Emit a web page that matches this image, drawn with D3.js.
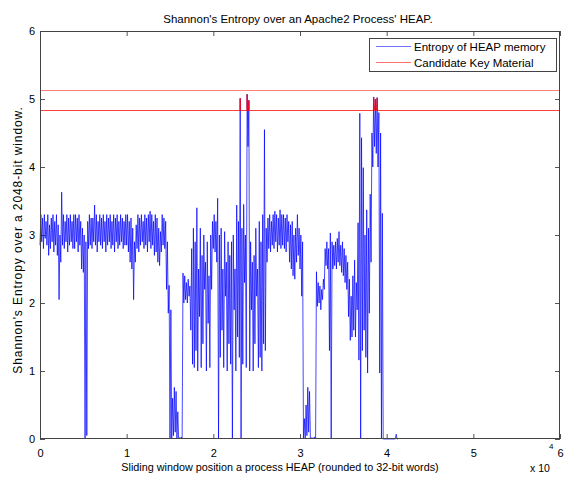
<!DOCTYPE html>
<html>
<head>
<meta charset="utf-8">
<script src="https://cdn.jsdelivr.net/npm/d3@7"></script>
<style>
  body { margin: 0; background: #fff; }
  text { font-family: "Liberation Sans", Arial, Helvetica, sans-serif; fill: #000; }
</style>
</head>
<body>
<div id="chart"></div>
<script>
    // -------------------------------
    // Data
    // -------------------------------
    // entropy per 200-word bin: low and high of the sliding window inside the bin
    const binWords = 200;
    const heapLo = [
      2.85, 2.9, 2.8, 2.95, 2.85, 2.7, 2.8, 2.9, 2.75, 2.85,
      2.7, 2.05, 2.6, 2.85, 2.8, 2.9, 2.75, 2.85, 2.9, 2.8,
      2.8, 2.9, 2.75, 2.85, 2.5, 2.45, 0, 0.05, 2.8, 2.85,
      2.8, 2.9, 2.85, 2.75, 2.9, 2.85, 2.8, 2.9, 2.75, 2.85,
      2.9, 2.8, 2.85, 2.75, 2.9, 2.8, 2.85, 2.9, 2.8, 2.85,
      2.85, 2.75, 2.6, 2.5, 2.05, 2.6, 2.8, 2.75, 2.85, 2.9,
      2.8, 2.85, 2.75, 2.9, 2.8, 2.85, 2.7, 2.75, 2.6, 2.55,
      2.75, 2.85, 2.8, 2.2, 1.85, 0, 0, 0.05, 0.1, 0,
      0, 0, 0, 2.0, 2.05, 2.0, 2.1, 1.6, 1.1, 1.05,
      1.3, 1.0, 1.8, 1.05, 1.4, 2.2, 1.0, 1.7, 1.05, 2.2,
      2.8, 2.75, 2.6, 0, 1.2, 1.6, 1.05, 2.1, 1.0, 1.4,
      1.1, 0, 1.9, 1.0, 1.5, 1.2, 0, 1.1, 2.3, 1.05,
      4.3, 1.0, 1.9, 1.0, 1.4, 2.1, 1.05, 1.2, 1.0, 1.4,
      1.3, 2.6, 2.8, 2.75, 2.85, 2.8, 2.9, 2.75, 2.85, 2.8,
      2.85, 2.8, 2.75, 2.9, 2.6, 2.5, 2.4, 2.35, 2.6, 2.7,
      2.5, 2.1, 0, 0, 0.05, 0.1, 0, 0, 0, 0,
      1.95, 2.0, 1.9, 2.05, 2.2, 2.55, 2.5, 1.3, 0, 2.5,
      2.55, 2.5, 2.6, 2.55, 2.45, 2.4, 2.3, 2.2, 1.8, 1.45,
      1.5, 1.6, 1.5, 1.9, 1.16, 0, 1.3, 1.6, 1.2, 0.97,
      1.85, 2.6, 4.0, 4.3, 4.2, 4.0, 0.97, 0, 0, 0,
      0, 0, 0, 0, 0, 0, 0
    ];
    const heapHi = [
      3.3, 3.25, 3.3, 3.2, 3.3, 3.15, 3.25, 3.3, 3.2, 3.3,
      3.15, 3.0, 3.63, 3.3, 3.2, 3.3, 3.25, 3.3, 3.2, 3.3,
      3.3, 3.25, 3.3, 3.2, 3.1, 3.0, 2.9, 3.2, 3.3, 3.25,
      3.25, 3.44, 3.3, 3.2, 3.3, 3.25, 3.3, 3.2, 3.3, 3.25,
      3.3, 3.2, 3.3, 3.25, 3.3, 3.2, 3.3, 3.25, 3.2, 3.3,
      3.3, 3.2, 3.25, 3.1, 2.9, 3.15, 3.3, 3.25, 3.3, 3.2,
      3.3, 3.25, 3.3, 3.35, 3.3, 3.2, 3.3, 3.25, 3.1, 3.05,
      3.3, 3.25, 3.2, 2.9, 2.26, 1.9, 0.6, 0.76, 0.7, 0.4,
      0.02, 0.03, 2.44, 2.4, 2.3, 2.35, 2.25, 2.8, 3.1, 2.9,
      3.4, 2.5, 3.1, 2.7, 3.0, 2.6, 2.9, 2.4, 3.0, 3.2,
      3.3, 3.2, 3.54, 3.0, 3.1, 2.5, 3.05, 2.6, 2.9, 2.7,
      2.9, 3.0, 2.5, 3.44, 3.2, 5.01, 3.1, 3.45, 3.0, 5.07,
      4.98, 2.9, 2.6, 2.7, 3.1, 2.5, 3.2, 2.9, 3.3, 4.55,
      3.1, 3.25, 3.3, 3.2, 3.3, 3.35, 3.3, 3.25, 3.37, 3.3,
      3.3, 3.25, 3.3, 3.2, 3.15, 3.2, 3.0, 3.1, 3.3, 3.1,
      3.0, 2.9, 0.3, 0.5, 0.76, 0.7, 0.02, 0.02, 0.03, 2.46,
      2.3, 2.25, 2.2, 2.35, 2.8, 2.9, 2.8, 3.03, 2.9, 2.85,
      2.9, 2.95, 3.05, 2.85, 2.9, 2.8, 2.7, 2.6, 2.35, 2.1,
      2.4, 2.63, 2.3, 3.18, 4.79, 4.43, 3.99, 3.0, 3.37, 3.1,
      3.6, 4.5, 5.03, 5.0, 5.02, 4.8, 4.5, 3.32, 0, 0,
      0, 0, 0, 0, 0, 0.07, 0
    ];
    // candidate key material band (entropy thresholds)
    const keyBand = [4.84, 5.13];
    const xTicks = [0, 10000, 20000, 30000, 40000, 50000, 60000];
    const yTicks = [0, 1, 2, 3, 4, 5, 6];
    const legendLabels = ['Entropy of HEAP memory', 'Candidate Key Material'];
    const legendColors = ['#0000ff', '#ff0000'];

    // -------------------------------
    // Setup
    // -------------------------------
    const W = 564, H = 477;
    const plot = { left: 40, right: 560, top: 31, bottom: 439 };

    const svg = d3.select('#chart').append('svg')
        .attr('width', W)
        .attr('height', H);

    const x = d3.scaleLinear().domain([0, 60000]).range([plot.left, plot.right]);
    const y = d3.scaleLinear().domain([0, 6]).range([plot.bottom, plot.top]);

    // sliding window series: low then high inside every bin
    const series = heapLo.flatMap((lo, i) => [
      [i * binWords, lo],
      [i * binWords + binWords / 2, heapHi[i]]
    ]);

    const line = d3.line()
        .x(d => x(d[0]))
        .y(d => y(d[1]));

    svg.append('defs').append('clipPath')
        .attr('id', 'keyClip')
      .append('rect')
        .attr('x', plot.left)
        .attr('y', y(keyBand[1]) - 3)
        .attr('width', plot.right - plot.left)
        .attr('height', y(keyBand[0]) - y(keyBand[1]) + 3);

    // --------------------
    // Axes (inward ticks, box)
    // --------------------
    const tickColor = '#555';
    function styleAxis(g) {
      g.select('.domain').remove();
      g.selectAll('.tick line').attr('stroke', tickColor);
      g.selectAll('.tick text')
        .style('font-family', '"Liberation Sans", Arial, sans-serif')
        .style('font-size', '11px')
        .attr('fill', '#000');
    }

    svg.append('g')
        .attr('transform', `translate(0,${plot.bottom})`)
        .call(d3.axisBottom(x).tickValues(xTicks).tickSize(-5).tickPadding(10)
          .tickFormat(d => d / 10000))
        .call(styleAxis);

    svg.append('g')
        .attr('transform', `translate(0,${plot.top})`)
        .call(d3.axisTop(x).tickValues(xTicks).tickSize(-5).tickFormat(''))
        .call(styleAxis);

    svg.append('g')
        .attr('transform', `translate(${plot.left},0)`)
        .call(d3.axisLeft(y).tickValues(yTicks).tickSize(-5).tickPadding(5)
          .tickFormat(d3.format('d')))
        .call(styleAxis);

    svg.append('g')
        .attr('transform', `translate(${plot.right},0)`)
        .call(d3.axisRight(y).tickValues(yTicks).tickSize(-5).tickFormat(''))
        .call(styleAxis);

    // --------------------
    // Entropy line + key material
    // --------------------
    svg.append('path')
        .datum(series)
        .attr('fill', 'none')
        .attr('stroke', '#0000ff')
        .attr('stroke-width', 0.9)
        .attr('stroke-opacity', 0.8)
        .attr('d', line);

    svg.append('path')
        .datum(series)
        .attr('clip-path', 'url(#keyClip)')
        .attr('fill', 'none')
        .attr('stroke', '#ff0000')
        .attr('stroke-width', 1.2)
        .attr('d', line);

    svg.selectAll('.band')
      .data(keyBand)
      .enter().append('line')
        .attr('class', 'band')
        .attr('x1', plot.left)
        .attr('x2', plot.right)
        .attr('y1', d => Math.round(y(d)) + 0.5)
        .attr('y2', d => Math.round(y(d)) + 0.5)
        .attr('stroke', '#ff0000')
        .attr('stroke-opacity', (d, i) => i ? 0.5 : 0.75);

    // box
    svg.append('rect')
        .attr('x', plot.left + 0.5)
        .attr('y', plot.top + 0.5)
        .attr('width', plot.right - plot.left - 1)
        .attr('height', plot.bottom - plot.top - 1)
        .attr('fill', 'none')
        .attr('stroke', '#444');

    // --------------------
    // Legend
    // --------------------
    const legend = svg.append('g');
    legend.append('rect')
        .attr('x', 369.5).attr('y', 38.5)
        .attr('width', 187).attr('height', 33)
        .attr('fill', '#fff')
        .attr('stroke', '#444');

    legendLabels.forEach((label, i) => {
      legend.append('line')
          .attr('x1', 376).attr('x2', 411)
          .attr('y1', 46.5 + i * 16).attr('y2', 46.5 + i * 16)
          .attr('stroke', legendColors[i])
          .attr('stroke-opacity', 0.55);
      legend.append('text')
          .attr('x', 414)
          .attr('y', 50.5 + i * 16)
          .style('font-size', '11.5px')
          .text(label);
    });

    // --------------------
    // Titles
    // --------------------
    svg.append('text')
        .attr('x', 298).attr('y', 23)
        .attr('text-anchor', 'middle')
        .style('font-size', '11.5px')
        .text("Shannon's Entropy over an Apache2 Process' HEAP.");

    svg.append('text')
        .attr('x', 280).attr('y', 471)
        .attr('text-anchor', 'middle')
        .style('font-size', '10.8px')
        .text('Sliding window position a process HEAP (rounded to 32-bit words)');

    svg.append('text')
        .attr('transform', 'translate(22,240) rotate(-90)')
        .attr('text-anchor', 'middle')
        .style('font-size', '12px')
        .style('letter-spacing', '0.9px')
        .text("Shannon's Entropy over a 2048-bit window.");

    svg.append('text')
        .attr('x', 530).attr('y', 472)
        .style('font-size', '10.5px')
        .text('x 10');
    svg.append('text')
        .attr('x', 549).attr('y', 449)
        .style('font-size', '8px')
        .text('4');
</script>
</body>
</html>
